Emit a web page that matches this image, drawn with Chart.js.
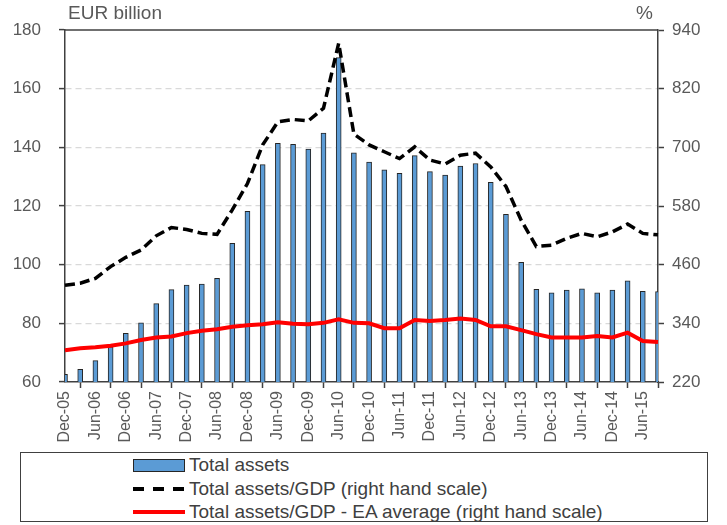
<!DOCTYPE html>
<html>
<head>
<meta charset="utf-8">
<script src="https://cdn.jsdelivr.net/npm/chart.js@4"></script>
<style>
  body { margin: 0; background: #fff; font-family: "Liberation Sans", sans-serif; }
  #wrap { position: relative; width: 727px; height: 525px; }
  #chartBox { position: absolute; left: 0; top: 0; width: 727px; height: 450px; }
  .axisTitle { position: absolute; top: 2px; font-size: 19px; color: #595959; }
  #legend { position: absolute; left: 20px; top: 452px; width: 688px; height: 70px; box-sizing: border-box;
            border: 1.5px solid #404040; font-size: 19px; color: #404040; }
  .item { position: absolute; left: 112px; height: 24px; display: flex; align-items: center; }
  .sw { width: 52px; margin-right: 4px; }
  .sw.bar { height: 13px; background: #5B9BD5; border: 1px solid #262626; box-sizing: border-box; }
  .sw.dash { height: 4px; background: repeating-linear-gradient(90deg, #000 0 11px, transparent 11px 20px); }
  .sw.red { height: 4px; background: #ff0000; }
</style>
</head>
<body>
<div id="wrap">
  <div id="chartBox"><canvas id="chart"></canvas></div>
  <span class="axisTitle" style="left:68px">EUR billion</span>
  <span class="axisTitle" style="left:636px">%</span>
  <div id="legend">
    <div class="item" style="top:0px"><span class="sw bar"></span>Total assets</div>
    <div class="item" style="top:24px"><span class="sw dash"></span>Total assets/GDP (right hand scale)</div>
    <div class="item" style="top:47px"><span class="sw red"></span>Total assets/GDP - EA average (right hand scale)</div>
  </div>
</div>
<script>
const quarters = [
  "Dec-05", "Mar-06", "Jun-06", "Sep-06", "Dec-06", "Mar-07", "Jun-07", "Sep-07",
  "Dec-07", "Mar-08", "Jun-08", "Sep-08", "Dec-08", "Mar-09", "Jun-09", "Sep-09",
  "Dec-09", "Mar-10", "Jun-10", "Sep-10", "Dec-10", "Mar-11", "Jun-11", "Sep-11",
  "Dec-11", "Mar-12", "Jun-12", "Sep-12", "Dec-12", "Mar-13", "Jun-13", "Sep-13",
  "Dec-13", "Mar-14", "Jun-14", "Sep-14", "Dec-14", "Mar-15", "Jun-15", "Sep-15"
];
const totalAssets = [
  62.6, 64.3, 67.3, 72.0, 76.6, 80.2, 86.7, 91.5, 93.0, 93.4,
  95.3, 107.3, 118.2, 134.1, 141.4, 141.0, 139.4, 144.9, 170.6, 138.1,
  135.0, 132.3, 131.1, 137.2, 131.7, 130.5, 133.6, 134.5, 128.1, 117.2,
  100.8, 91.6, 90.4, 91.3, 91.8, 90.4, 91.3, 94.5, 90.9, 90.8
];
const assetsToGdp = [
  418, 422, 432, 456, 475, 490, 519, 536, 532, 524,
  522, 572, 626, 705, 752, 757, 754, 780, 913, 727,
  705, 691, 677, 701, 674, 666, 684, 688, 660, 620,
  551, 497, 500, 514, 524, 517, 527, 543, 524, 521
];
const eaAverage = [
  285, 289, 291, 294, 299, 306, 311, 313, 320, 325,
  328, 333, 336, 338, 342, 339, 338, 341, 348, 341,
  340, 330, 330, 347, 345, 347, 350, 347, 334, 334,
  326, 318, 311, 311, 311, 314, 311, 321, 304, 302
];
const leftTicks = { min: 60, max: 180, step: 20 };
const rightTicks = { min: 220, max: 940, step: 120 };

const axisColor = "#404040";
const tickFont = { family: "'Liberation Sans', sans-serif", size: 17 };

// solid line along the top of the plot area
const topLine = {
  id: "topLine",
  afterDraw(chart) {
    const a = chart.chartArea, ctx = chart.ctx;
    ctx.save();
    ctx.strokeStyle = axisColor;
    ctx.lineWidth = 1.5;
    ctx.beginPath();
    ctx.moveTo(a.left, a.top);
    ctx.lineTo(a.right, a.top);
    ctx.stroke();
    ctx.restore();
  }
};

new Chart(document.getElementById("chart"), {
  type: "bar",
  data: {
    labels: quarters,
    datasets: [
      {
        type: "line", label: "Total assets/GDP - EA average (right hand scale)",
        data: eaAverage, yAxisID: "y1", borderColor: "#ff0000", borderWidth: 4,
        pointRadius: 0, tension: 0, order: 0
      },
      {
        type: "line", label: "Total assets/GDP (right hand scale)",
        data: assetsToGdp, yAxisID: "y1", borderColor: "#000", borderWidth: 3.5,
        borderDash: [10, 5], pointRadius: 0, tension: 0, order: 1
      },
      {
        label: "Total assets", data: totalAssets, yAxisID: "y",
        backgroundColor: "#5B9BD5", borderColor: "#262626", borderWidth: 1,
        barThickness: 5, order: 2
      }
    ]
  },
  options: {
    responsive: true,
    maintainAspectRatio: false,
    animation: false,
    layout: { padding: { top: 30, left: 0, right: 0, bottom: 0 } },
    plugins: { legend: { display: false }, tooltip: { enabled: false } },
    scales: {
      x: {
        offset: false,
        afterFit(s) { s.height = 68; },
        border: { color: axisColor, width: 1.5 },
        grid: { drawOnChartArea: false, tickLength: 6, tickColor: axisColor, tickWidth: 1.5 },
        ticks: {
          autoSkip: false, minRotation: 90, maxRotation: 90, padding: 3,
          color: "#595959", font: { family: tickFont.family, size: 16 },
          callback(v, i) { return i % 2 === 0 ? this.getLabelForValue(v) : null; }
        }
      },
      y: {
        position: "left",
        min: leftTicks.min, max: leftTicks.max,
        afterFit(s) { s.width = 65; },
        border: { color: axisColor, width: 1.5, dash: [6, 4] },
        grid: {
          color: c => (c.tick.value === leftTicks.min || c.tick.value === leftTicks.max) ? "transparent" : "#d9d9d9",
          lineWidth: 1.2, tickLength: 6, tickColor: axisColor, tickWidth: 1.5
        },
        ticks: { stepSize: leftTicks.step, color: "#595959", font: tickFont, padding: 18 }
      },
      y1: {
        position: "right",
        min: rightTicks.min, max: rightTicks.max,
        afterFit(s) { s.width = 69; },
        border: { color: axisColor, width: 1.5 },
        grid: { drawOnChartArea: false, tickLength: 6, tickColor: axisColor, tickWidth: 1.5 },
        ticks: { stepSize: rightTicks.step, color: "#595959", font: tickFont, padding: 8 }
      }
    }
  },
  plugins: [topLine]
});
</script>
</body>
</html>
